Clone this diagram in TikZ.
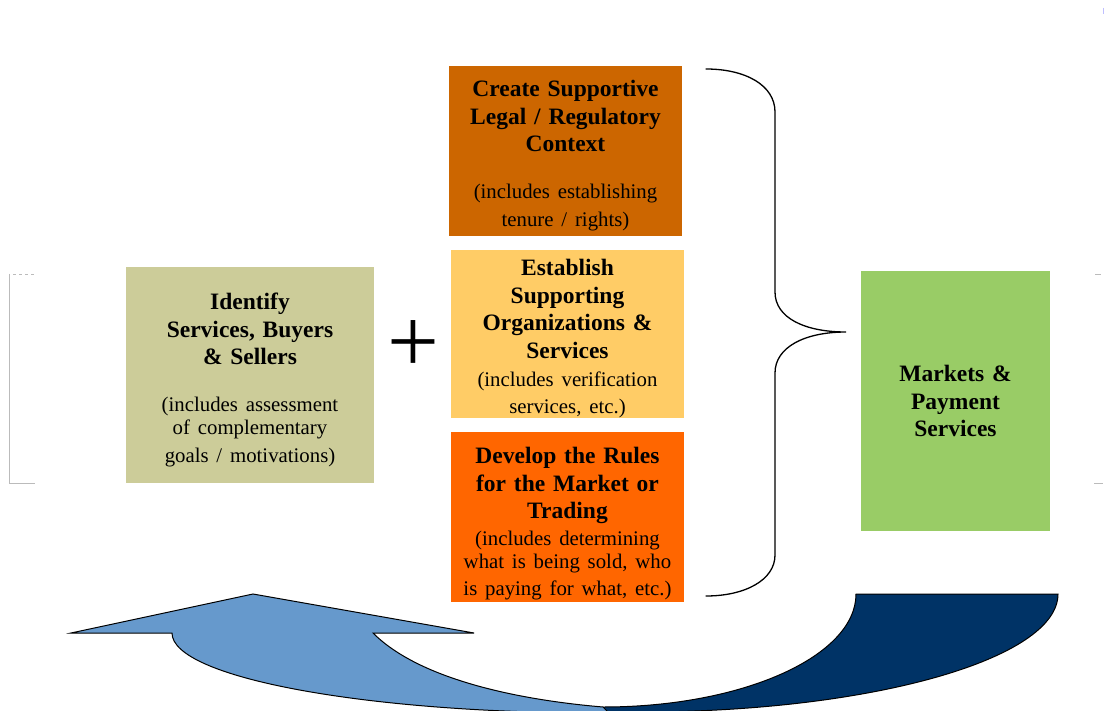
\documentclass[tikz,border=0pt]{standalone}
\usepackage{fontspec}
\setmainfont{Liberation Serif}
\definecolor{ctop}{HTML}{CC6600}
\definecolor{cmid}{HTML}{FFCC66}
\definecolor{cbot}{HTML}{FF6600}
\definecolor{cleft}{HTML}{CCCC99}
\definecolor{cgreen}{HTML}{99CC66}
\definecolor{clight}{HTML}{6699CC}
\definecolor{cdark}{HTML}{003366}
\definecolor{cmark}{HTML}{BBBBBB}
\newcommand{\ttl}{\bfseries\fontsize{23.5}{27.5}\selectfont}
\newcommand{\sbt}{\par\fontsize{20.8}{23}\selectfont\mdseries}
\begin{document}
\begin{tikzpicture}[x=1pt,y=-1pt,
  boxstyle/.style={rectangle,inner sep=0pt,minimum width=#1},
  txtstyle/.style={inner sep=0pt,text width=#1-2pt,align=center,font=\ttl},
  bandline/.style={draw=black,line width=1pt,line join=miter},
  markline/.style={draw=cmark,line width=0.8pt}]
\useasboundingbox (0,0) rectangle (1105,711);
\fill[white] (0,0) rectangle (1105,711);

% boxes
\node[boxstyle=248pt,fill=cleft,minimum height=216pt] (lbox) at (250,375) {};
\node[boxstyle=233pt,fill=ctop,minimum height=170pt] (tbox) at (565.5,151) {};
\node[boxstyle=233pt,fill=cmid,minimum height=168pt] (mbox) at (567.5,334) {};
\node[boxstyle=233pt,fill=cbot,minimum height=170pt] (bbox) at (567.5,517) {};
\node[boxstyle=189pt,fill=cgreen,minimum height=260pt] (gbox) at (955.5,401) {};

% texts
\node[txtstyle=248pt] (ltext) at ([yshift=-5pt]lbox.center)
  {Identify\\Services, Buyers\\\& Sellers\sbt\vspace{24pt}(includes assessment\\of complementary\\goals / motivations)};
\node[txtstyle=233pt] (ttext) at ([yshift=-4.5pt]tbox.center)
  {Create Supportive\\Legal / Regulatory\\Context\sbt\vspace{24pt}(includes establishing\\tenure / rights)};
\node[txtstyle=233pt] (mtext) at ([yshift=-5pt]mbox.center)
  {Establish\\Supporting\\Organizations \&\\Services\sbt\vspace{5pt}(includes verification\\services, etc.)};
\node[txtstyle=233pt] (btext) at ([yshift=-7pt]bbox.center)
  {Develop the Rules\\for the Market or\\Trading\sbt\vspace{3.5pt}(includes determining\\what is being sold, who\\is paying for what, etc.)};
\node[txtstyle=189pt] (gtext) at (gbox.center)
  {Markets \&\\Payment\\Services};

% plus sign
\node[inner sep=0pt,font=\fontsize{92}{92}\selectfont] (plus) at (413,347) {+};

% brace
\draw[line width=1.3pt,line cap=round]
  (706,69) .. controls (745,69) and (775,85) .. (775,112)
  -- (775,292) .. controls (775,318) and (805,332) .. (846,332)
  .. controls (805,332) and (775,347) .. (775,373)
  -- (775,555) .. controls (775,580) and (745,596) .. (706,596);

% curved arrow
\begin{scope}
\clip (0,0) rectangle (1105,711);
\path[bandline,fill=cdark]
  (856,594) -- (1058,594) .. controls (1058,659) and (871,712) .. (640,712)
  -- (603,712) -- (603,707) .. controls (743,707) and (856,656) .. (856,594) -- cycle;
\path[bandline,fill=clight]
  (71,633) -- (253,594) -- (474,633) -- (373,633)
  .. controls (420,680) and (520,700) .. (603,707)
  -- (612,716) -- (600,716) -- (600,713)
  .. controls (363.6,713) and (172,677.2) .. (172,633) -- cycle;
\end{scope}

% faint selection marks
\draw[markline,dashed] (13,274) -- (35,274);
\draw[markline] (9,274) -- (9,483) -- (35,483);
\draw[markline] (1095,274) -- (1101,274);
\draw[markline] (1094,483) -- (1103,483);
\draw[draw=blue!25,line width=0.8pt] (1103,8) -- (1103,14);
\end{tikzpicture}
\end{document}
